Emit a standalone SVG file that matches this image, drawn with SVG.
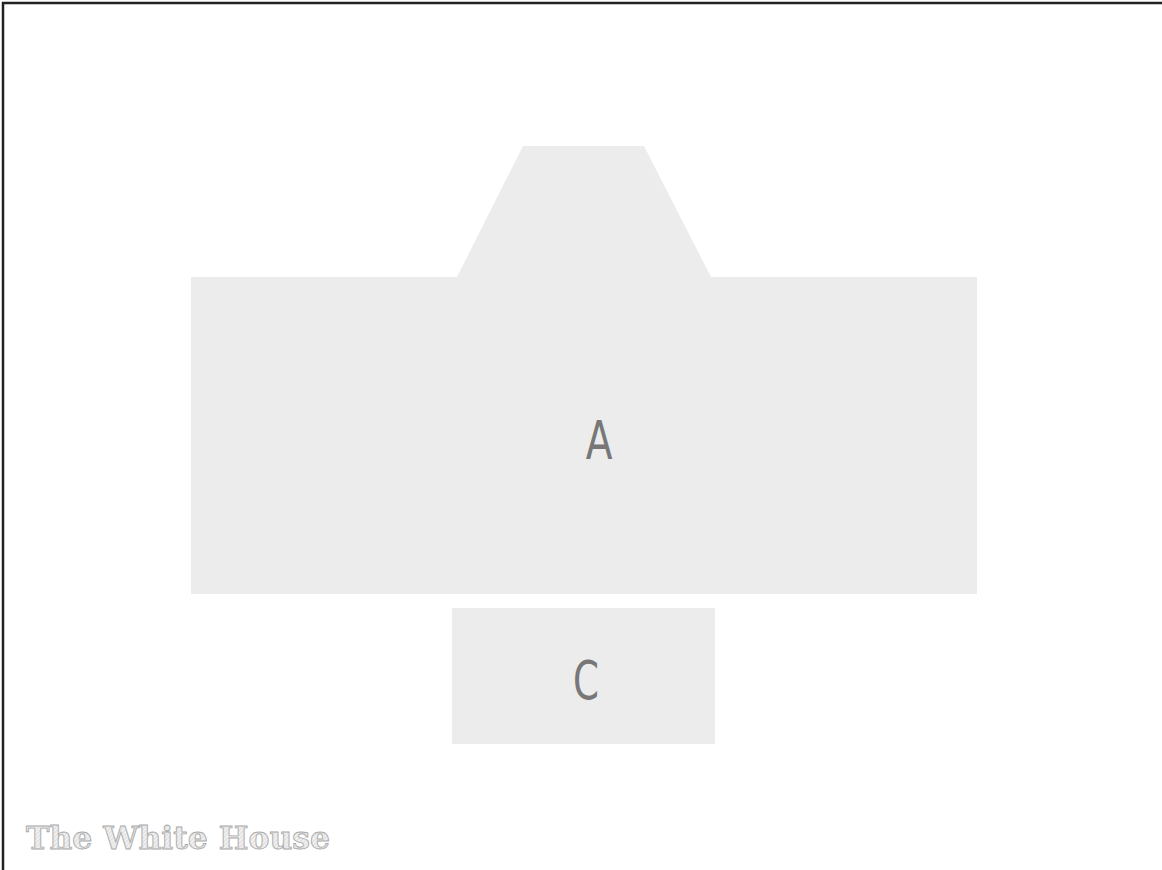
<svg xmlns="http://www.w3.org/2000/svg" width="1162" height="870" viewBox="0 0 1162 870">
<style>
.shape{fill:#ebeceb;stroke:none}
.lbl{font-family:"DejaVu Sans Condensed","DejaVu Sans",sans-serif;font-stretch:condensed;font-size:53px;fill:#777;text-anchor:middle}
.title{font-family:"DejaVu Serif","Liberation Serif",serif;font-weight:bold;font-size:31px;fill:url(#hatch);stroke:#aaa;stroke-width:0.9}
</style>
<defs>
<pattern id="hatch" width="3" height="3" patternUnits="userSpaceOnUse" patternTransform="rotate(45)">
<rect width="3" height="3" fill="#f0f0f0"/>
<line x1="0" y1="0" x2="0" y2="3" stroke="#ccc" stroke-width="1"/>
</pattern>
</defs>
<rect width="1162" height="870" fill="#fff"/>
<path d="M3,870 V3 H1162" fill="none" stroke="#222" stroke-width="2.5"/>
<g id="connectors"/>
<g id="nodeA">
<polygon class="shape" points="191,277 457,277 523,146 644,146 711,277 977,277 977,594 191,594"/>
<text class="lbl" transform="translate(599,459) scale(0.82,1)">A</text>
</g>
<g id="nodeC">
<rect class="shape" x="452" y="608" width="263" height="136"/>
<text class="lbl" transform="translate(586,699) scale(0.78,1)">C</text>
</g>
<g id="title">
<text class="title" x="26" y="849" textLength="304" lengthAdjust="spacingAndGlyphs">The White House</text>
</g>
</svg>
